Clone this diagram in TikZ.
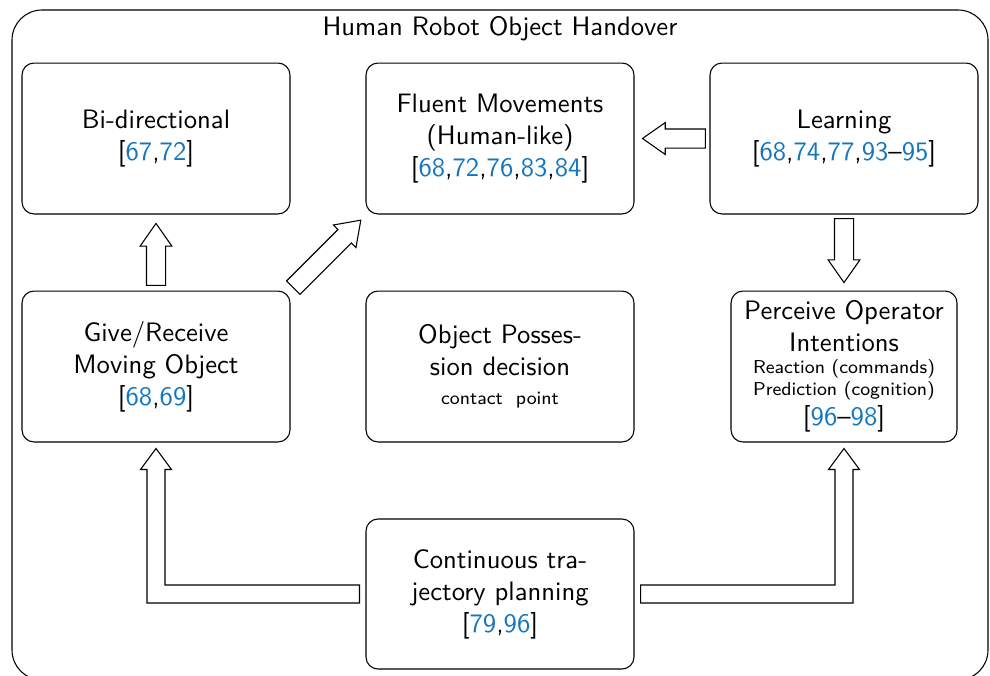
\documentclass[tikz,border=0pt]{standalone}
\usepackage{tikz}
\usetikzlibrary{shapes.arrows,calc}
\definecolor{citeblue}{RGB}{20,118,190}
\newcommand{\cit}[1]{\textcolor{citeblue}{#1}}

\begin{document}
\begin{tikzpicture}[x=0.375pt,y=-0.375pt,font=\sffamily,
  box/.style={draw,rounded corners=4.5pt,align=center,minimum width=100.5pt,
    minimum height=56.6pt,inner sep=0pt},
  block arrow/.style={draw,fill=white,single arrow,inner xsep=0pt,inner ysep=3.375pt,
    single arrow head extend=2.4pt,single arrow tip angle=70,anchor=tip}]
\useasboundingbox (0,0) rectangle (990,675);

% outer frame
  \draw[rounded corners=11.25pt] (12,10) rectangle (988,680);
  \node (title) at (500,29) {Human Robot Object Handover};

% top row
  \node[box] (bidir) at (156,138.5) {Bi-directional\\ {[}\cit{67},\cit{72}{]}};
  \node[box] (fluent) at (500,138.5) {Fluent Movements\\ (Human-like)\\
    {[}\cit{68},\cit{72},\cit{76},\cit{83},\cit{84}{]}};
  \node[box] (learn) at (844,138.5) {Learning\\
    {[}\cit{68},\cit{74},\cit{77},\cit{93}--\cit{95}{]}};

% middle row
  \node[box] (give) at (156,366.5) {Give/Receive\\ Moving Object\\ {[}\cit{68},\cit{69}{]}};
  \node[box] (possess) at (500,366.5) {Object Posses-\\ sion decision\\[-1pt]
    \scriptsize contact~~point};
  \node[box,minimum width=84.75pt] (perceive) at (844,366.5) {Perceive Operator\\
    Intentions\\[-3.75pt] \scriptsize Reaction (commands)\\[-3.75pt]
    \scriptsize Prediction (cognition)\\[-0.75pt] {[}\cit{96}--\cit{98}{]}};

% bottom
  \node[box,minimum height=56.25pt] (cont) at (500,594) {Continuous tra-\\
    jectory planning\\ {[}\cit{79},\cit{96}{]}};

% straight block arrows (placed by their tips)
  \node[block arrow,minimum height=23.6pt,rotate=180] (a1)
    at ($(fluent.east)+(7,0)$) {};
  \node[block arrow,minimum height=23.25pt,rotate=90] (a2)
    at ($(bidir.south)+(0,8)$) {};
  \node[block arrow,minimum height=24pt,rotate=270] (a3)
    at ($(perceive.north)+(0,-7)$) {};
  \node[block arrow,minimum height=35.8pt,rotate=45] (a4)
    at ($(fluent.south west)+(-4,5)$) {};

% bent block arrows
  \coordinate (lcorner) at (give.south |- cont.west);
  \coordinate (rcorner) at (perceive.south |- cont.east);
  \draw ($(cont.west)+(-6,-9)$) -- ($(lcorner)+(9,-9)$) -- ($(give.south)+(9,27)$)
    -- ($(give.south)+(15.5,27)$) -- ($(give.south)+(0,6)$) -- ($(give.south)+(-15.5,27)$)
    -- ($(give.south)+(-9,27)$) -- ($(lcorner)+(-9,9)$) -- ($(cont.west)+(-6,9)$) -- cycle;
  \draw ($(cont.east)+(6,-9)$) -- ($(rcorner)+(-9,-9)$) -- ($(perceive.south)+(-9,27)$)
    -- ($(perceive.south)+(-15.5,27)$) -- ($(perceive.south)+(0,6)$) -- ($(perceive.south)+(15.5,27)$)
    -- ($(perceive.south)+(9,27)$) -- ($(rcorner)+(9,9)$) -- ($(cont.east)+(6,9)$) -- cycle;

\end{tikzpicture}
\end{document}
